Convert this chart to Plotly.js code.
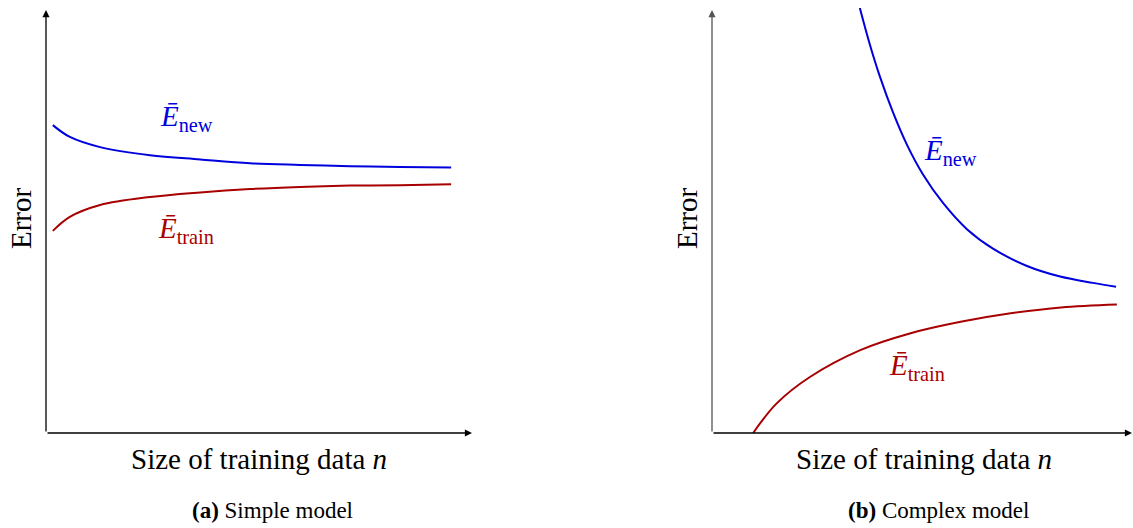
<!DOCTYPE html>
<html>
<head>
<meta charset="utf-8">
<script src="https://cdn.plot.ly/plotly-3.0.1.min.js"></script>
<style>html,body{margin:0;padding:0;background:#fff;}#chart{width:1133px;height:528px;}</style>
</head>
<body>
<div id="chart"></div>
<script>
// ---- data ----
const simpleNewX   = [0.16, 0.56, 1.27, 2.44, 3.62, 4.79, 5.96, 7.14, 8.31, 9.51];
const simpleNewY   = [7.28, 7.00, 6.76, 6.57, 6.47, 6.38, 6.34, 6.31, 6.29, 6.28];
const simpleTrainX = [0.16, 0.56, 1.27, 2.44, 3.62, 4.79, 5.96, 7.14, 8.31, 9.51];
const simpleTrainY = [4.78, 5.11, 5.39, 5.58, 5.69, 5.77, 5.82, 5.85, 5.86, 5.88];

const complexNewX   = [3.52, 3.76, 4.00, 4.31, 4.64, 5.02, 5.50, 6.07, 6.69, 7.50, 8.29, 9.07, 9.62];
const complexNewY   = [10.05, 9.18, 8.42, 7.58, 6.82, 6.12, 5.44, 4.82, 4.36, 3.95, 3.70, 3.55, 3.46];
const complexTrainX = [0.98, 1.54, 2.34, 3.53, 4.73, 5.92, 7.11, 8.31, 9.64];
const complexTrainY = [0.00, 0.70, 1.33, 1.96, 2.36, 2.63, 2.83, 2.97, 3.04];

const xTitle = 'Size of training data <i>n</i>';
const yTitle = 'Error';
const captions = ['<b>(a)</b> Simple model', '<b>(b)</b> Complex model'];
const newLabel = '<i>Ē</i><sub>new</sub>';
const trainLabel = '<i>Ē</i><sub>train</sub>';

const BLUE = '#0000dd';
const RED = '#a80000';
const FONT = 'Liberation Serif, Times New Roman, serif';

const W = 1133, H = 528;
const px = v => v / W;
const py = v => 1 - v / H;

const traces = [
  {x: simpleNewX, y: simpleNewY, xaxis: 'x', yaxis: 'y', mode: 'lines', line: {color: BLUE, width: 2, shape: 'spline'}},
  {x: simpleTrainX, y: simpleTrainY, xaxis: 'x', yaxis: 'y', mode: 'lines', line: {color: RED, width: 2, shape: 'spline'}},
  {x: complexNewX, y: complexNewY, xaxis: 'x2', yaxis: 'y2', mode: 'lines', line: {color: BLUE, width: 2, shape: 'spline'}},
  {x: complexTrainX, y: complexTrainY, xaxis: 'x2', yaxis: 'y2', mode: 'lines', line: {color: RED, width: 2, shape: 'spline'}}
];

const axBase = {showgrid: false, zeroline: false, showline: false, showticklabels: false, ticks: '', fixedrange: true};

function axisArrows(xa, ya, yColor) {
  return [
    {xref: xa, yref: ya, axref: xa, ayref: ya, x: 10, y: 0, ax: 0, ay: 0, text: '', showarrow: true,
     arrowhead: 2, arrowsize: 1.1, arrowwidth: 1.3, arrowcolor: '#000', standoff: 0, startstandoff: 0},
    {xref: xa, yref: ya, axref: xa, ayref: ya, x: 0, y: 10, ax: 0, ay: 0, text: '', showarrow: true,
     arrowhead: 2, arrowsize: 1.1, arrowwidth: 1.3, arrowcolor: yColor, standoff: 0, startstandoff: 0}
  ];
}

function txt(xref, yref, x, y, text, size, color, extra) {
  return Object.assign({xref: xref, yref: yref, x: x, y: y, text: text, showarrow: false,
    xanchor: 'center', yanchor: 'middle', font: {family: FONT, size: size, color: color}}, extra || {});
}

const annotations = [
  ...axisArrows('x', 'y', '#000'),
  ...axisArrows('x2', 'y2', '#555'),
  txt('x', 'y', 3.29, 7.45, newLabel, 29, BLUE),
  txt('x', 'y', 3.29, 4.80, trainLabel, 29, RED),
  txt('x2', 'y2', 5.68, 6.64, newLabel, 29, BLUE),
  txt('x2', 'y2', 4.89, 1.56, trainLabel, 29, RED),
  txt('paper', 'paper', px(259), py(459), xTitle, 29, '#000'),
  txt('paper', 'paper', px(924), py(459), xTitle, 29, '#000'),
  txt('paper', 'paper', px(21), py(218), yTitle, 29, '#000', {textangle: -90}),
  txt('paper', 'paper', px(687), py(218), yTitle, 29, '#000', {textangle: -90}),
  txt('paper', 'paper', px(272), py(510), captions[0], 23, '#000'),
  txt('paper', 'paper', px(938), py(510), captions[1], 23, '#000')
];

const layout = {
  width: W, height: H,
  margin: {l: 0, r: 0, t: 0, b: 0},
  paper_bgcolor: '#fff', plot_bgcolor: 'rgba(0,0,0,0)',
  showlegend: false,
  xaxis:  Object.assign({}, axBase, {domain: [px(46), px(472)], range: [0, 10]}),
  yaxis:  Object.assign({}, axBase, {domain: [py(433), py(8)], range: [0, 10.05]}),
  xaxis2: Object.assign({}, axBase, {domain: [px(712), px(1132)], range: [0, 10], anchor: 'y2'}),
  yaxis2: Object.assign({}, axBase, {domain: [py(433), py(8)], range: [0, 10.05], anchor: 'x2'}),
  annotations: annotations
};

Plotly.newPlot('chart', traces, layout, {staticPlot: true, displayModeBar: false});
</script>
</body>
</html>
